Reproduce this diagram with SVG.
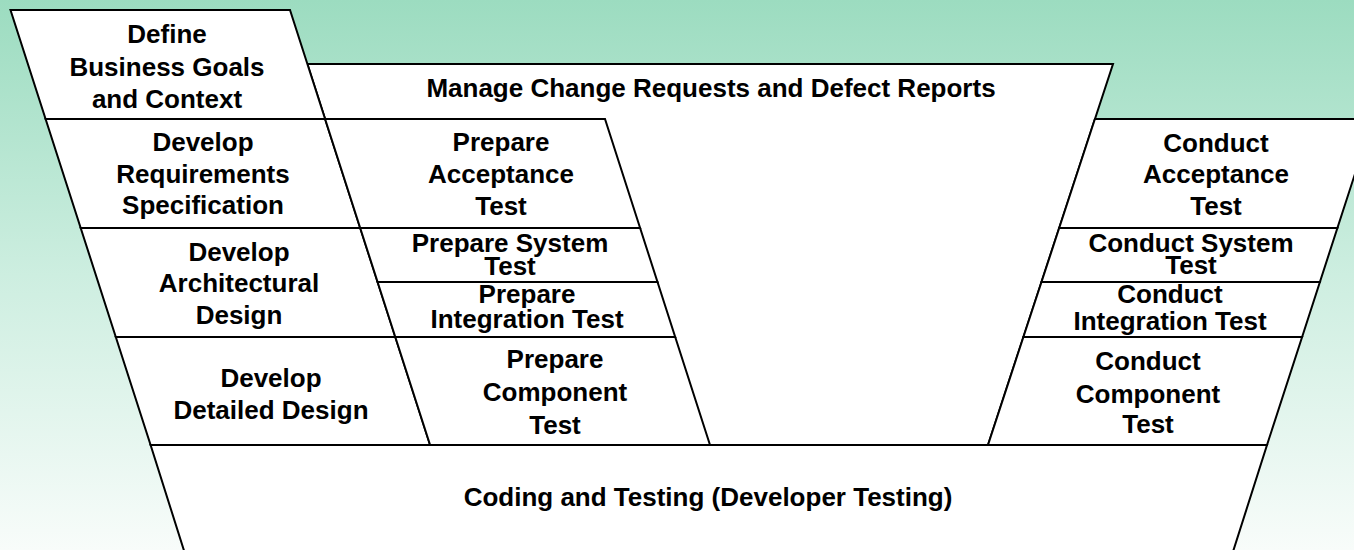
<svg xmlns="http://www.w3.org/2000/svg" width="1354" height="550" viewBox="0 0 1354 550">
<defs>
<linearGradient id="bg" x1="0" y1="0" x2="0" y2="1">
<stop offset="0" stop-color="#9cdcc0"/>
<stop offset="0.5" stop-color="#cdeee0"/>
<stop offset="1" stop-color="#f8fcfa"/>
</linearGradient>
<style>
.box{fill:#ffffff;stroke:#000000;stroke-width:2;stroke-linejoin:miter}
.t{font-family:"Liberation Sans",Arial,Helvetica,sans-serif;font-weight:bold;font-size:26px;fill:#000000;text-anchor:middle}
</style>
</defs>
<rect x="0" y="0" width="1354" height="550" fill="url(#bg)"/>
<g id="connectors"/>
<g id="manage">
<polygon class="box" points="307.4,64 1113,64 988,445 430.1,445"/>
<text class="t" x="711" y="97">Manage Change Requests and Defect Reports</text>
</g>
<g id="coding">
<polygon class="box" points="150.6,445 1267,445 1229.7,562 187.6,562"/>
<text class="t" x="708" y="506">Coding and Testing (Developer Testing)</text>
</g>
<g id="define">
<polygon class="box" points="10.5,10 290,10 325.1,119 45.6,119"/>
<text class="t" x="167" y="43">Define</text>
<text class="t" x="167" y="76">Business Goals</text>
<text class="t" x="167" y="108">and Context</text>
</g>
<g id="dev-req">
<polygon class="box" points="45.6,119 325.1,119 360.2,228 80.7,228"/>
<text class="t" x="203" y="151">Develop</text>
<text class="t" x="203" y="183">Requirements</text>
<text class="t" x="203" y="214">Specification</text>
</g>
<g id="dev-arch">
<polygon class="box" points="80.7,228 360.2,228 395.3,337 115.8,337"/>
<text class="t" x="239" y="261">Develop</text>
<text class="t" x="239" y="292">Architectural</text>
<text class="t" x="239" y="324">Design</text>
</g>
<g id="dev-detail">
<polygon class="box" points="115.8,337 395.3,337 430.1,445 150.6,445"/>
<text class="t" x="271" y="387">Develop</text>
<text class="t" x="271" y="419">Detailed Design</text>
</g>
<g id="prep-accept">
<polygon class="box" points="325.1,119 605,119 640.1,228 360.2,228"/>
<text class="t" x="501" y="151">Prepare</text>
<text class="t" x="501" y="183">Acceptance</text>
<text class="t" x="501" y="215">Test</text>
</g>
<g id="prep-system">
<polygon class="box" points="360.2,228 640.1,228 657.5,282 377.6,282"/>
<text class="t" x="510" y="252">Prepare System</text>
<text class="t" x="510" y="275">Test</text>
</g>
<g id="prep-integ">
<polygon class="box" points="377.6,282 657.5,282 675.2,337 395.3,337"/>
<text class="t" x="527" y="303">Prepare</text>
<text class="t" x="527" y="328">Integration Test</text>
</g>
<g id="prep-comp">
<polygon class="box" points="395.3,337 675.2,337 710,445 430.1,445"/>
<text class="t" x="555" y="368">Prepare</text>
<text class="t" x="555" y="401">Component</text>
<text class="t" x="555" y="434">Test</text>
</g>
<g id="cond-accept">
<polygon class="box" points="1094.9,119 1372.8,119 1337.4,228 1059.2,228"/>
<text class="t" x="1216" y="152">Conduct</text>
<text class="t" x="1216" y="183">Acceptance</text>
<text class="t" x="1216" y="215">Test</text>
</g>
<g id="cond-system">
<polygon class="box" points="1059.2,228 1337.4,228 1319.9,282 1041.5,282"/>
<text class="t" x="1191" y="252">Conduct System</text>
<text class="t" x="1191" y="274">Test</text>
</g>
<g id="cond-integ">
<polygon class="box" points="1041.5,282 1319.9,282 1302.1,337 1023.4,337"/>
<text class="t" x="1170" y="303">Conduct</text>
<text class="t" x="1170" y="330">Integration Test</text>
</g>
<g id="cond-comp">
<polygon class="box" points="1023.4,337 1302.1,337 1267,445 988,445"/>
<text class="t" x="1148" y="370">Conduct</text>
<text class="t" x="1148" y="403">Component</text>
<text class="t" x="1148" y="433">Test</text>
</g>
</svg>
